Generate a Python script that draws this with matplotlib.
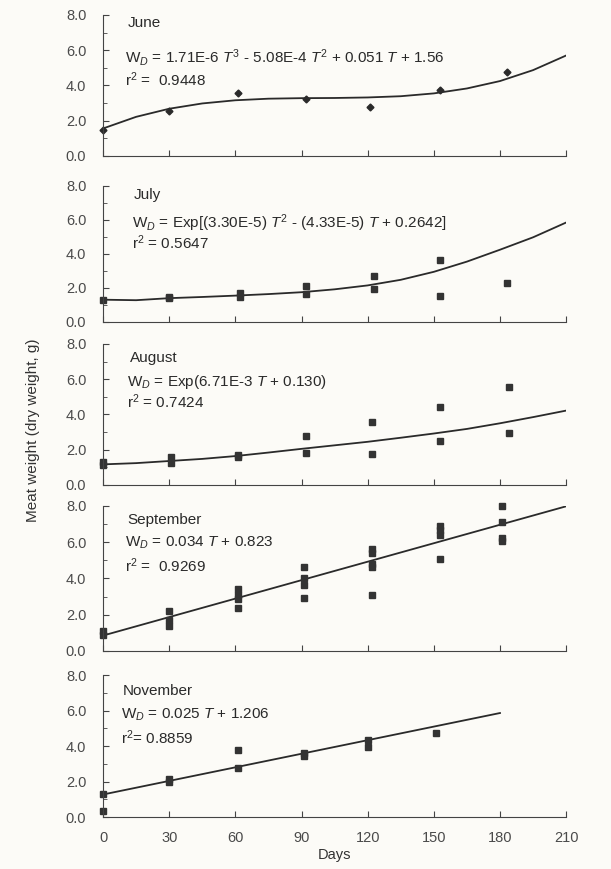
import matplotlib
matplotlib.use("Agg")
import matplotlib.pyplot as plt
from matplotlib.ticker import MultipleLocator, FormatStrFormatter

plt.rcParams['font.family'] = ['Liberation Sans', 'DejaVu Sans']
plt.rcParams['mathtext.fontset'] = 'custom'
plt.rcParams['mathtext.rm'] = 'Liberation Sans'
plt.rcParams['mathtext.it'] = 'Liberation Sans:italic'

# fitted curves, read at 15-day steps
fit_t = [0, 15, 30, 45, 60, 75, 90, 105, 120, 135, 150, 165, 180, 195, 210]

# June
days_jun = [0, 30, 61, 92, 121, 153, 183]
wt_jun = [1.47, 2.55, 3.59, 3.21, 2.80, 3.74, 4.78]
fit_jun = [1.56, 2.22, 2.68, 2.98, 3.16, 3.25, 3.28, 3.29, 3.32, 3.39, 3.55, 3.83, 4.25, 4.87, 5.70]

# July
days_jul = [0, 30, 30, 62, 62, 92, 92, 123, 123, 153, 153, 183]
wt_jul = [1.31, 1.48, 1.40, 1.68, 1.48, 2.10, 1.62, 2.70, 1.95, 3.65, 1.55, 2.30]
fit_jul = [1.31, 1.28, 1.40, 1.47, 1.55, 1.64, 1.75, 1.92, 2.15, 2.48, 2.95, 3.55, 4.25, 4.98, 5.85]

# August
days_aug = [0, 0, 31, 31, 61, 61, 92, 92, 122, 122, 153, 153, 184, 184]
wt_aug = [1.30, 1.12, 1.60, 1.25, 1.70, 1.58, 2.80, 1.83, 3.59, 1.76, 4.44, 2.50, 5.54, 2.97]
fit_aug = [1.17, 1.24, 1.36, 1.48, 1.64, 1.84, 2.05, 2.25, 2.45, 2.68, 2.92, 3.18, 3.50, 3.85, 4.22]

# September
days_sep = [0, 0, 30, 30, 30, 61, 61, 61, 61, 91, 91, 91, 91,
            122, 122, 122, 122, 122, 153, 153, 153, 153, 181, 181, 181, 181]
wt_sep = [1.10, 0.90, 2.20, 1.70, 1.40, 3.40, 3.10, 2.85, 2.36, 4.65, 4.00, 3.65, 2.90,
          5.62, 5.42, 4.82, 4.62, 3.10, 6.90, 6.70, 6.38, 5.05, 8.00, 7.12, 6.25, 6.05]
fit_sep_t = [0, 210]
fit_sep = [0.85, 7.98]

# November
days_nov = [0, 0, 30, 30, 61, 61, 91, 91, 120, 120, 151]
wt_nov = [1.28, 0.36, 2.17, 1.98, 3.78, 2.77, 3.62, 3.43, 4.35, 3.95, 4.75]
fit_nov_t = [0, 180]
fit_nov = [1.27, 5.86]

months = ["June", "July", "August", "September", "November"]
equations = [
    r"W$_D$ = 1.71E-6 $T^3$ - 5.08E-4 $T^2$ + 0.051 $T$ + 1.56",
    r"W$_D$ = Exp[(3.30E-5) $T^2$ - (4.33E-5) $T$ + 0.2642]",
    r"W$_D$ = Exp(6.71E-3 $T$ + 0.130)",
    r"W$_D$ = 0.034 $T$ + 0.823",
    r"W$_D$ = 0.025 $T$ + 1.206",
]
r2_labels = [r"r$^2$ =  0.9448", r"r$^2$ = 0.5647", r"r$^2$ = 0.7424",
             r"r$^2$ =  0.9269", r"r$^2$= 0.8859"]

points = [(days_jun, wt_jun), (days_jul, wt_jul), (days_aug, wt_aug),
          (days_sep, wt_sep), (days_nov, wt_nov)]
curves = [(fit_t, fit_jun), (fit_t, fit_jul), (fit_t, fit_aug),
          (fit_sep_t, fit_sep), (fit_nov_t, fit_nov)]

# panel boxes (left, bottom, width, height) in figure fractions
boxes = [(0.1686, 0.8205, 0.758, 0.1623),
         (0.1686, 0.6295, 0.758, 0.1565),
         (0.1686, 0.4419, 0.758, 0.1623),
         (0.1686, 0.2509, 0.758, 0.1669),
         (0.1686, 0.0598, 0.758, 0.1634)]
text_y = [(7.55, 5.6, 4.3), (7.45, 5.8, 4.65), (7.2, 5.85, 4.7),
          (7.25, 5.95, 4.7), (7.1, 5.75, 4.45)]
text_x = [11, 14, 12, 11, 9]

bg = '#fcfbf7'
ink = '#2a2a2a'
fig = plt.figure(figsize=(6.11, 8.69), dpi=100, facecolor=bg)

for i in range(5):
    ax = fig.add_axes(boxes[i], facecolor=bg)
    tx, ty = curves[i]
    ax.plot(tx, ty, color=ink, lw=1.3)
    px, py = points[i]
    if i == 0:
        ax.plot(px, py, 'D', ms=3.5, color=ink, ls='none', clip_on=False)
    else:
        ax.plot(px, py, 's', ms=4.5, color='#333333', ls='none', clip_on=False)

    ax.set_xlim(0, 210)
    ax.set_ylim(0, 8)
    ax.spines['top'].set_visible(False)
    ax.spines['right'].set_visible(False)
    for s in ['left', 'bottom']:
        ax.spines[s].set_color('#444444')
        ax.spines[s].set_linewidth(0.8)
    ax.xaxis.set_major_locator(MultipleLocator(30))
    ax.yaxis.set_major_locator(MultipleLocator(2))
    ax.yaxis.set_minor_locator(MultipleLocator(1))
    ax.yaxis.set_major_formatter(FormatStrFormatter('%.1f'))
    ax.tick_params(axis='both', which='both', direction='in', color='#444444',
                   labelcolor='#4a4a4a', labelsize=10.5)
    ax.tick_params(axis='y', which='major', length=4, pad=12)
    ax.tick_params(axis='y', which='minor', length=3)
    ax.tick_params(axis='x', length=4, pad=10)
    if i < 4:
        ax.tick_params(axis='x', labelbottom=False)

    y1, y2, y3 = text_y[i]
    ax.text(text_x[i], y1, months[i], fontsize=11, color=ink, va='center')
    ax.text(text_x[i] - 1, y2, equations[i], fontsize=11, color=ink, va='center')
    ax.text(text_x[i] - 1, y3, r2_labels[i], fontsize=11, color=ink, va='center')

    if i == 4:
        ax.set_xlabel("Days", fontsize=10.5, color='#333333', labelpad=2)

fig.text(0.054, 0.505, "Meat weight (dry weight, g)", rotation=90, fontsize=11,
         color='#333333', ha='center', va='center')

fig.savefig("out.png", dpi=100, facecolor=bg)
